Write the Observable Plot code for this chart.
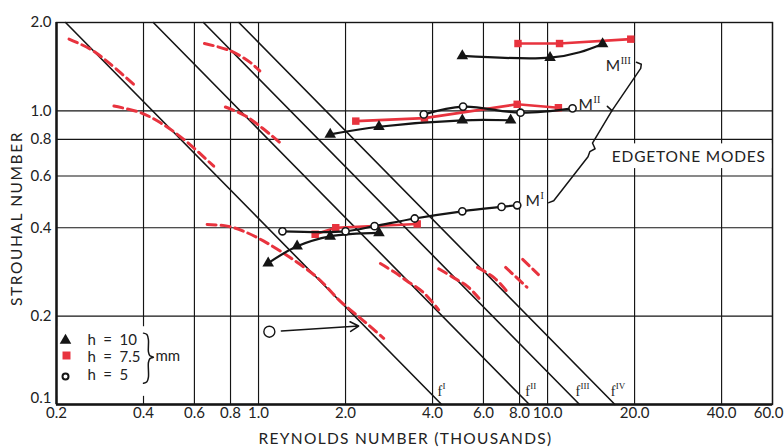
<!DOCTYPE html>
<html><head><meta charset="utf-8">
<script src="https://cdn.jsdelivr.net/npm/d3@7"></script>
<script src="https://cdn.jsdelivr.net/npm/@observablehq/plot@0.6"></script>
<style>body{margin:0;background:#fff}</style>
</head><body><div id="chart"></div>
<script>
// ---- axes ----
const xTicks = [0.2,0.4,0.6,0.8,1,2,4,6,8,10,20,40,60];
const yTicks = [0.1,0.2,0.4,0.6,0.8,1,2];

// ---- harmonic lines  St * Re = const ----
const fNames = ["I","II","III","IV"];
const fConst = [0.43, 0.865, 1.29, 1.71];

// ---- h = 10 mm (filled triangles) ----
const h10_I_re  = [1.08, 1.36, 1.77, 2.61];
const h10_I_st  = [0.303, 0.346, 0.374, 0.384];
const h10_II_re = [1.77, 2.61, 5.07, 7.45];
const h10_II_st = [0.832, 0.883, 0.929, 0.929];
const h10_III_re = [5.07, 10.2, 15.5];
const h10_III_st = [1.54, 1.518, 1.69];

// ---- h = 7.5 mm (red squares) ----
const h75_I_re  = [1.57, 1.85, 3.54];
const h75_I_st  = [0.38, 0.40, 0.412];
const h75_II_re = [2.17, 3.75, 7.85, 10.9];
const h75_II_st = [0.923, 0.945, 1.053, 1.025];
const h75_III_re = [7.9, 11.0, 19.4];
const h75_III_st = [1.696, 1.696, 1.755];

// ---- h = 5 mm (open circles) ----
const h5_I_re  = [1.21, 2.0, 2.52, 3.47, 5.07, 6.93, 7.85];
const h5_I_st  = [0.389, 0.389, 0.405, 0.430, 0.455, 0.471, 0.477];
const h5_II_re = [3.73, 5.1, 8.06, 12.2];
const h5_II_st = [0.973, 1.034, 0.986, 1.02];
const single_re = [1.09];
const single_st = [0.177];
const arrowFrom = [1.2, 0.178];
const arrowTo   = [2.22, 0.185];

// ---- red dashed (jet) curves ----
const jetRe = [
  [0.221,0.262,0.303,0.375],
  [0.316,0.391,0.458,0.551,0.70],
  [0.650,0.80,0.938,1.01],
  [0.768,0.902,1.03,1.18],
  [0.664,0.78,0.889,1.043,1.29,1.60,1.92,2.32,2.71],
  [2.64,2.94,3.27,3.73,4.2],
  [4.2,4.74,5.27,5.79],
  [5.72,6.54,7.3],
  [7.16,8.48],
  [8.2,9.3]
];
const jetSt = [
  [1.755,1.623,1.460,1.216],
  [1.039,0.986,0.911,0.800,0.648],
  [1.696,1.601,1.46,1.368],
  [1.031,0.961,0.874,0.783],
  [0.410,0.405,0.389,0.360,0.316,0.270,0.2245,0.192,0.168],
  [0.302,0.283,0.263,0.240,0.21],
  [0.290,0.270,0.253,0.230],
  [0.293,0.270,0.240],
  [0.293,0.251],
  [0.312,0.277]
];

// ---- mode labels and brace ----
const modeNames = ["I","II","III"];
const modeLabRe = [8.39, 12.8, 15.9];
const modeLabSt = [0.494, 1.05, 1.426];
const braceRe = [20.3, 21.1, 21.0, 16.7, 14.3, 14.6, 14.0, 13.8, 10.5, 10.1];
const braceSt = [1.464, 1.442, 1.396, 1.002, 0.777, 0.743, 0.726, 0.698, 0.494, 0.487];
const tickRe = [16.7, 16.1];
const tickSt = [1.002, 1.036];
// legend brace "}"
const legBraceRe = [0.400, 0.411, 0.416, 0.416, 0.421, 0.433, 0.421, 0.416, 0.416, 0.411, 0.400];
const legBraceSt = [0.175, 0.173, 0.166, 0.151, 0.1465, 0.1449, 0.1433, 0.139, 0.124, 0.1195, 0.1181];

// ---- helpers ----
const pts = (re, st, g) => re.map((r, i) => ({re: r, st: st[i], g}));
const fLineData = fNames.flatMap((n, i) => [{n, re: fConst[i] / 2.0, st: 2.0}, {n, re: fConst[i] / 0.1, st: 0.1}]);
const fLabSt = 0.111;
const fLab = fNames.map((n, i) => ({n, re: fConst[i] / fLabSt, st: fLabSt}));
const jetData = jetRe.flatMap((r, i) => pts(r, jetSt[i], i));
const RED = "#e8333e";
const BLK = "#151515";

const h10 = [pts(h10_I_re,h10_I_st,"I"), pts(h10_II_re,h10_II_st,"II"), pts(h10_III_re,h10_III_st,"III")];
const h75 = [pts(h75_I_re,h75_I_st,"I"), pts(h75_II_re,h75_II_st,"II"), pts(h75_III_re,h75_III_st,"III")];
const h5  = [pts(h5_I_re,h5_I_st,"I"), pts(h5_II_re,h5_II_st,"II")];
const modeLab = modeNames.map((n,i)=>({n, re: modeLabRe[i], st: modeLabSt[i]}));

const FONT = "Lato, 'Open Sans', sans-serif";
const SERIF = "'Liberation Serif', 'DejaVu Serif', serif";
const LEG = {frameAnchor: "bottom-left", textAnchor: "start", lineAnchor: "middle", fontSize: 15};
const XLAB = {x: d => d, text: d => d.toFixed(1), frameAnchor: "bottom", lineAnchor: "top", dy: 3, fontSize: 15};

const chart = Plot.plot({
  width: 784, height: 448,
  marginLeft: 56, marginRight: 12, marginTop: 22, marginBottom: 44,
  x: {type: "log", domain: [0.2, 60], axis: null},
  y: {type: "log", domain: [0.1, 2.0]},
  style: {fontFamily: FONT, fontSize: "15px", color: "#222", background: "#fff"},
  marks: [
    Plot.ruleX(xTicks, {stroke: BLK, strokeWidth: 1.15}),
    Plot.ruleY(yTicks, {stroke: BLK, strokeWidth: 1.15}),
    // white boxes behind the legend and label
    Plot.rect([0], {x1: 0.2, x2: 0.56, y1: 0.1066, y2: 0.184, fill: "#fff"}),
    Plot.rect([0], {x1: 15.2, x2: 60, y1: 0.636, y2: 0.772, fill: "#fff"}),
    // harmonic lines
    Plot.line(fLineData, {x: "re", y: "st", z: "n", stroke: BLK, strokeWidth: 1.6}),
    Plot.text(fLab, {x: "re", y: "st", text: () => "f", dx: 9, textAnchor: "start", fontFamily: SERIF, fontSize: 14}),
    Plot.text(fLab, {x: "re", y: "st", text: "n", dx: 14, dy: -5, textAnchor: "start", fontFamily: SERIF, fontSize: 9}),
    // jet curves
    Plot.line(jetData, {x: "re", y: "st", z: "g", stroke: RED, strokeWidth: 3, strokeDasharray: "9,5", curve: "catmull-rom"}),
    // h = 7.5 (red)
    ...h75.map(d => Plot.line(d, {x: "re", y: "st", stroke: RED, strokeWidth: 2.6})),
    ...h75.map(d => Plot.dot(d, {x: "re", y: "st", symbol: "square", r: 4.2, fill: RED})),
    // h = 10
    Plot.line(h10[0], {x: "re", y: "st", stroke: BLK, strokeWidth: 2.2, curve: "catmull-rom"}),
    Plot.line(h10[1], {x: "re", y: "st", stroke: BLK, strokeWidth: 2.2, curve: "catmull-rom"}),
    Plot.line(h10[2], {x: "re", y: "st", stroke: BLK, strokeWidth: 2.2, curve: "natural"}),
    ...h10.map(d => Plot.dot(d, {x: "re", y: "st", symbol: "triangle", r: 4.3, fill: BLK})),
    // h = 5
    ...h5.map(d => Plot.line(d, {x: "re", y: "st", stroke: BLK, strokeWidth: 2.2, curve: "catmull-rom"})),
    ...h5.map(d => Plot.dot(d, {x: "re", y: "st", r: 3.6, fill: "#fff", stroke: BLK, strokeWidth: 1.6})),
    Plot.dot(pts(single_re, single_st, "s"), {x: "re", y: "st", r: 5.5, fill: "#fff", stroke: BLK, strokeWidth: 1.4}),
    Plot.arrow([0], {x1: arrowFrom[0], y1: arrowFrom[1], x2: arrowTo[0], y2: arrowTo[1], stroke: BLK, strokeWidth: 1.6, headLength: 9, bend: 0}),
    // mode labels & brace
    Plot.text(modeLab, {x: "re", y: "st", text: () => "M", textAnchor: "start", fontSize: 15.5}),
    Plot.text(modeLab, {x: "re", y: "st", text: "n", dx: 15, dy: -5, textAnchor: "start", fontFamily: SERIF, fontSize: 10}),
    Plot.line(pts(braceRe, braceSt, "b"), {x: "re", y: "st", stroke: BLK, strokeWidth: 1.5}),
    Plot.line(pts(tickRe, tickSt, "t"), {x: "re", y: "st", stroke: BLK, strokeWidth: 1.5}),
    Plot.text(["EDGETONE MODES"], {x: 30.8, y: 0.698, fontSize: 15.5}),
    // legend
    Plot.dot([0], {frameAnchor: "bottom-left", dx: 9, dy: -64, symbol: "triangle", r: 4.3, fill: BLK}),
    Plot.dot([0], {frameAnchor: "bottom-left", dx: 10, dy: -49, symbol: "square", r: 4.5, fill: RED}),
    Plot.dot([0], {frameAnchor: "bottom-left", dx: 9, dy: -28, r: 3, fill: "#fff", stroke: BLK, strokeWidth: 2}),
    Plot.text(["h\u2002=\u200210"], {...LEG, dx: 31, dy: -64}),
    Plot.text(["h\u2002=\u20027.5"], {...LEG, dx: 31, dy: -47}),
    Plot.text(["h\u2002=\u20025"], {...LEG, dx: 31, dy: -29}),
    Plot.line(pts(legBraceRe, legBraceSt, "lb"), {x: "re", y: "st", stroke: BLK, strokeWidth: 1.5, curve: "catmull-rom"}),
    Plot.text(["mm"], {...LEG, dx: 99, dy: -48}),
    // frame
    Plot.frame({stroke: BLK, strokeWidth: 1.4}),
    Plot.ruleX([0.2], {stroke: BLK, strokeWidth: 2.4}),
    Plot.ruleY([0.1], {stroke: BLK, strokeWidth: 2.4}),
    // axes
    Plot.text(xTicks.filter(d => d < 60), XLAB),
    Plot.text(xTicks.filter(d => d >= 60), {...XLAB, dx: -4}),
    Plot.axisY({ticks: yTicks.filter(d => d !== 0.1), tickFormat: d => d.toFixed(1), tickSize: 0, tickPadding: 5, label: null, fontSize: 15}),
    Plot.axisY({ticks: [0.1], tickFormat: d => d.toFixed(1), tickSize: 0, tickPadding: 5, label: null, fontSize: 15, dy: -6}),
    Plot.text(["REYNOLDS NUMBER (THOUSANDS)"], {frameAnchor: "bottom", textAnchor: "middle", lineAnchor: "middle", dx: -9, dy: 35, fontSize: 15.5}),
    Plot.text(["STROUHAL NUMBER"], {frameAnchor: "left", textAnchor: "middle", lineAnchor: "middle", dx: -39, dy: 5, rotate: -90, fontSize: 15.5})
  ]
});
document.getElementById("chart").appendChild(chart);
// letter spacing of the wide geometric lettering
d3.select(chart).selectAll("text").each(function() {
  const t = this.textContent;
  if (t === "REYNOLDS NUMBER (THOUSANDS)") d3.select(this).style("letter-spacing", "1.3px");
  if (t === "STROUHAL NUMBER") d3.select(this).style("letter-spacing", "1.6px");
  if (t === "EDGETONE MODES") d3.select(this).style("letter-spacing", "0.8px");
});
</script>
</body></html>
